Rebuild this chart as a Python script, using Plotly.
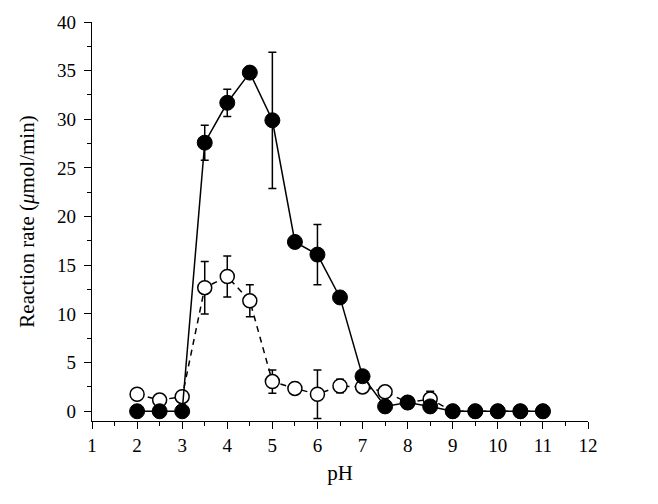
import plotly.graph_objects as go

ph = [2, 2.5, 3, 3.5, 4, 4.5, 5, 5.5, 6, 6.5, 7, 7.5, 8, 8.5, 9, 9.5, 10, 10.5, 11]

filled_rate = [0, 0, 0, 27.6, 31.7, 34.8, 29.9, 17.4, 16.1, 11.7, 3.6, 0.5, 0.9, 0.5, 0, 0, 0, 0, 0]
filled_err = [0, 0, 0, 1.8, 1.4, 0, 7.0, 0.5, 3.1, 0.6, 0.3, 0.2, 0.3, 0.2, 0, 0, 0, 0, 0]

open_rate = [1.75, 1.15, 1.5, 12.7, 13.85, 11.35, 3.05, 2.35, 1.75, 2.6, 2.5, 2.0, 0.9, 1.25, 0, 0, 0, 0, 0]
open_err = [0.2, 0.4, 0.4, 2.7, 2.1, 1.65, 1.2, 0.6, 2.5, 0.7, 0.3, 0.5, 0.3, 0.8, 0, 0, 0, 0, 0]

x_ticks = list(range(1, 13))
y_ticks = list(range(0, 45, 5))

font_family = "Liberation Serif"

fig = go.Figure()

fig.add_trace(go.Scatter(
    x=ph, y=open_rate,
    mode="lines+markers",
    line=dict(color="black", width=1.5, dash="6px,5px"),
    marker=dict(symbol="circle", size=14, color="white",
                line=dict(color="black", width=1.5)),
    error_y=dict(type="data", array=open_err, visible=True,
                 color="black", thickness=1.5, width=4),
    showlegend=False,
))

fig.add_trace(go.Scatter(
    x=ph, y=filled_rate,
    mode="lines+markers",
    line=dict(color="black", width=1.5),
    marker=dict(symbol="circle", size=15, color="black",
                line=dict(color="black", width=1)),
    error_y=dict(type="data", array=filled_err, visible=True,
                 color="black", thickness=1.5, width=4),
    showlegend=False,
))

fig.update_layout(
    width=650, height=496,
    margin=dict(l=84, r=70, t=14, b=83),
    paper_bgcolor="white",
    plot_bgcolor="white",
    font=dict(family=font_family, size=19, color="black"),
    xaxis=dict(
        range=[1, 12],
        tickvals=x_ticks,
        ticks="outside", ticklen=7, tickwidth=1.2, tickcolor="black",
        minor=dict(dtick=0.5, ticks="outside", ticklen=4, tickwidth=1.2, tickcolor="black"),
        showline=True, linecolor="black", linewidth=1.2,
        showgrid=False, zeroline=False, automargin=False,
        ticklabelstandoff=0,
        title=dict(text="pH", font=dict(family=font_family, size=21), standoff=10),
        tickfont=dict(family=font_family, size=19),
    ),
    yaxis=dict(
        range=[-1, 40],
        tickvals=y_ticks,
        ticks="outside", ticklen=7, tickwidth=1.2, tickcolor="black",
        minor=dict(tick0=0, dtick=2.5, ticks="outside", ticklen=4, tickwidth=1.2, tickcolor="black"),
        showline=True, linecolor="black", linewidth=1.2,
        showgrid=False, zeroline=False, automargin=False,
        ticklabelstandoff=4,
        title=dict(text="Reaction rate (<i>μ</i>mol/min)", font=dict(family=font_family, size=21), standoff=16),
        tickfont=dict(family=font_family, size=19),
    ),
)

fig.write_html("out.html")
